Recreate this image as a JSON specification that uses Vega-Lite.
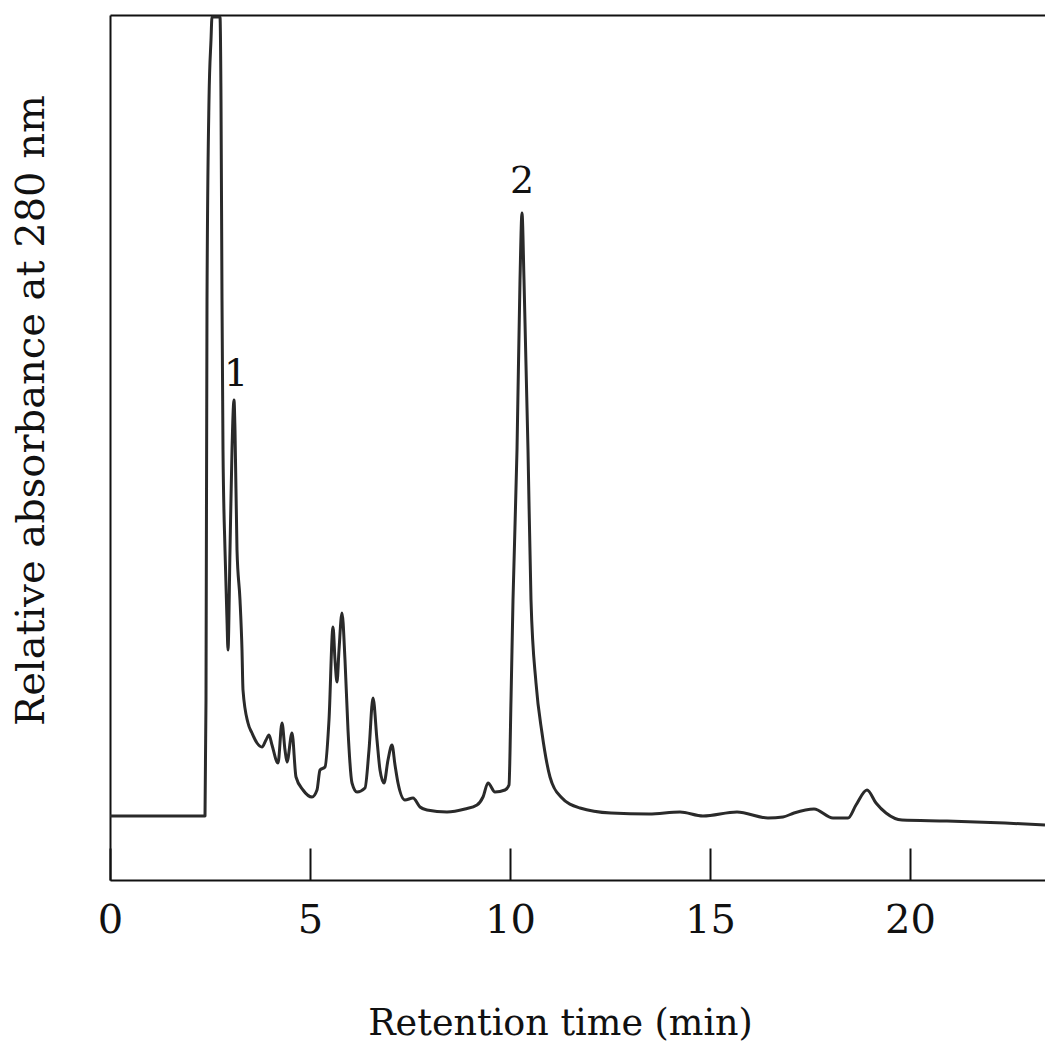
{
  "$schema": "https://vega.github.io/schema/vega-lite/v6.json",
  "width": 935,
  "height": 865,
  "autosize": {"type": "none"},
  "padding": {"left": 110, "top": 15, "right": 0, "bottom": 164},
  "background": "white",
  "config": {
    "view": {"stroke": null},
    "font": "DejaVu Serif",
    "axis": {"grid": false, "domainColor": "#111", "domainWidth": 2, "tickColor": "#111", "tickWidth": 2, "labelColor": "#111", "titleColor": "#111", "titleFontWeight": "normal", "labelFont": "DejaVu Serif", "titleFont": "DejaVu Serif"}
  },
  "datasets": {
    "trace": [
      {"t": 0, "a": 64}, {"t": 2.35, "a": 64}, {"t": 2.375, "a": 64}, {"t": 2.4, "a": 180},
      {"t": 2.425, "a": 580}, {"t": 2.475, "a": 780}, {"t": 2.525, "a": 840}, {"t": 2.55, "a": 863},
      {"t": 2.75, "a": 863}, {"t": 2.775, "a": 780}, {"t": 2.8, "a": 580}, {"t": 2.825, "a": 430},
      {"t": 2.875, "a": 330}, {"t": 2.925, "a": 260}, {"t": 2.95, "a": 230}, {"t": 3.0, "a": 330},
      {"t": 3.05, "a": 430}, {"t": 3.1, "a": 480}, {"t": 3.125, "a": 450}, {"t": 3.175, "a": 330},
      {"t": 3.25, "a": 280}, {"t": 3.3, "a": 230}, {"t": 3.325, "a": 190}, {"t": 3.45, "a": 157},
      {"t": 3.55, "a": 147}, {"t": 3.675, "a": 137}, {"t": 3.8, "a": 133}, {"t": 3.9, "a": 140},
      {"t": 3.975, "a": 145}, {"t": 4.05, "a": 135}, {"t": 4.2, "a": 117}, {"t": 4.3, "a": 157},
      {"t": 4.375, "a": 130}, {"t": 4.425, "a": 118}, {"t": 4.55, "a": 147}, {"t": 4.65, "a": 103},
      {"t": 4.825, "a": 90}, {"t": 5.05, "a": 83}, {"t": 5.175, "a": 90}, {"t": 5.25, "a": 110},
      {"t": 5.375, "a": 113}, {"t": 5.475, "a": 160}, {"t": 5.575, "a": 253}, {"t": 5.625, "a": 220},
      {"t": 5.675, "a": 198}, {"t": 5.725, "a": 230}, {"t": 5.8, "a": 267}, {"t": 5.875, "a": 220},
      {"t": 5.95, "a": 150}, {"t": 6.05, "a": 97}, {"t": 6.175, "a": 88}, {"t": 6.375, "a": 92},
      {"t": 6.475, "a": 130}, {"t": 6.575, "a": 182}, {"t": 6.675, "a": 140}, {"t": 6.75, "a": 110},
      {"t": 6.85, "a": 97}, {"t": 6.95, "a": 120}, {"t": 7.05, "a": 135}, {"t": 7.125, "a": 115},
      {"t": 7.2, "a": 97}, {"t": 7.375, "a": 80}, {"t": 7.575, "a": 82}, {"t": 7.75, "a": 73},
      {"t": 7.925, "a": 70}, {"t": 8.425, "a": 68}, {"t": 8.875, "a": 71}, {"t": 9.175, "a": 75},
      {"t": 9.325, "a": 83}, {"t": 9.45, "a": 97}, {"t": 9.625, "a": 88}, {"t": 9.875, "a": 90},
      {"t": 9.975, "a": 95}, {"t": 10.025, "a": 180}, {"t": 10.075, "a": 280}, {"t": 10.175, "a": 430},
      {"t": 10.25, "a": 600}, {"t": 10.3, "a": 667}, {"t": 10.35, "a": 600}, {"t": 10.45, "a": 430},
      {"t": 10.525, "a": 280}, {"t": 10.65, "a": 197}, {"t": 10.8, "a": 147}, {"t": 11.0, "a": 103},
      {"t": 11.275, "a": 83}, {"t": 11.75, "a": 72}, {"t": 12.525, "a": 67}, {"t": 13.475, "a": 66},
      {"t": 14.25, "a": 68}, {"t": 14.825, "a": 64}, {"t": 15.675, "a": 68}, {"t": 16.45, "a": 62},
      {"t": 16.825, "a": 63}, {"t": 17.1, "a": 67}, {"t": 17.6, "a": 71}, {"t": 18.075, "a": 62},
      {"t": 18.45, "a": 62}, {"t": 18.65, "a": 75}, {"t": 18.925, "a": 90}, {"t": 19.15, "a": 77},
      {"t": 19.4, "a": 67}, {"t": 19.8, "a": 60}, {"t": 20.925, "a": 59}, {"t": 22.375, "a": 57},
      {"t": 23.375, "a": 55}
    ],
    "peaks": [
      {"t": 3.15, "a": 505, "label": "1"},
      {"t": 10.3, "a": 698, "label": "2"}
    ]
  },
  "layer": [
    {
      "data": {"name": "trace"},
      "mark": {"type": "line", "color": "#2a2a2a", "strokeWidth": 3, "interpolate": "monotone", "strokeJoin": "round"},
      "encoding": {
        "x": {
          "field": "t", "type": "quantitative",
          "scale": {"domain": [0, 23.375], "nice": false, "zero": false},
          "axis": {
            "orient": "bottom", "values": [0, 5, 10, 15, 20], "tickSize": -32,
            "labelFontSize": 40, "labelPadding": 84, "labelBaseline": "alphabetic", "labelFlush": false,
            "labelOverlap": false,
            "title": "Retention time (min)", "titleFontSize": 36.5, "titleX": 450, "titleY": 154,
            "titleBaseline": "alphabetic", "titleAnchor": "middle", "titleAlign": "center"
          }
        },
        "y": {
          "field": "a", "type": "quantitative",
          "scale": {"domain": [0, 865], "nice": false},
          "axis": {
            "orient": "left", "labels": false, "ticks": false,
            "title": "Relative absorbance at 280 nm", "titleFontSize": 40,
            "titleX": -67, "titleY": 395, "titleBaseline": "alphabetic", "titleAngle": 270, "titleAlign": "center"
          }
        }
      }
    },
    {
      "data": {"name": "peaks"},
      "mark": {"type": "text", "fontSize": 38, "font": "DejaVu Serif", "color": "#111", "baseline": "middle", "align": "center"},
      "encoding": {
        "x": {"field": "t", "type": "quantitative", "axis": {"orient": "top", "labels": false, "ticks": false, "title": null, "domain": true}},
        "y": {"field": "a", "type": "quantitative"},
        "text": {"field": "label"}
      }
    }
  ],
  "resolve": {"axis": {"x": "independent"}}
}
